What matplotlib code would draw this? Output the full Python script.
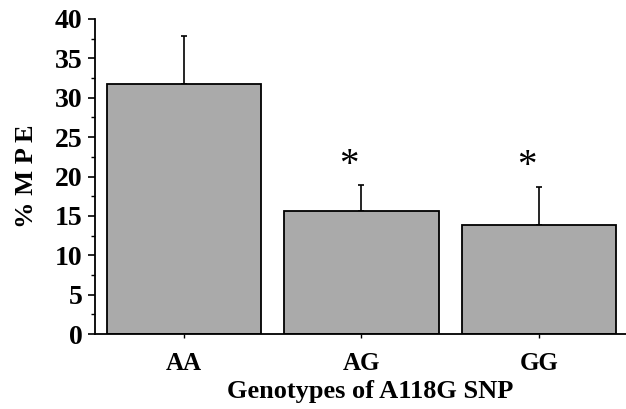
import matplotlib
matplotlib.use('Agg')
import matplotlib.pyplot as plt
from matplotlib.ticker import MultipleLocator

# Data
genotypes = ['AA', 'AG', 'GG']
mpe_mean = [31.7, 15.6, 13.8]
mpe_err = [6.2, 3.3, 4.9]
significant = [False, True, True]

plt.rcParams['font.family'] = ['Liberation Serif', 'DejaVu Serif']
plt.rcParams['font.weight'] = 'bold'

fig = plt.figure(figsize=(6.26, 4.09), dpi=100)
ax = fig.add_axes([95 / 626, 1 - 334 / 409, 1 - 95 / 626, (334 - 19) / 409])

x = range(len(genotypes))
ax.bar(x, mpe_mean, width=0.87, color='#aaaaaa', edgecolor='black',
       linewidth=1.3, zorder=2)
ax.errorbar(x, mpe_mean, yerr=[[0] * len(mpe_err), mpe_err], fmt='none',
            ecolor='black', elinewidth=1.2, capsize=2.5, capthick=1.2, zorder=1)

# significance stars above the error bars
for i, (m, e, s) in enumerate(zip(mpe_mean, mpe_err, significant)):
    if s:
        ax.annotate('*', xy=(i, m + e), xytext=(-9, 1), textcoords='offset points',
                    ha='center', va='bottom', fontsize=28, fontweight='normal')

ax.set_xlim(-0.5, 2.49)
ax.set_ylim(0, 40)
ax.yaxis.set_major_locator(MultipleLocator(5))
ax.yaxis.set_minor_locator(MultipleLocator(2.5))
ax.set_xticks(list(x))
ax.set_xticklabels(genotypes, fontsize=18, fontweight='bold')
ax.tick_params(axis='y', which='major', length=5, width=1.2, labelsize=20, pad=4)
ax.tick_params(axis='y', which='minor', length=3, width=1.0)
ax.tick_params(axis='x', length=3, width=1.0, pad=10)
for lbl in ax.get_yticklabels():
    lbl.set_fontweight('bold')

for side in ['top', 'right']:
    ax.spines[side].set_visible(False)
for side in ['left', 'bottom']:
    ax.spines[side].set_linewidth(1.3)

ax.set_ylabel('% M P E', fontsize=19, fontweight='bold', labelpad=12)
ax.set_xlabel('Genotypes of A118G SNP', fontsize=19, fontweight='bold', labelpad=5)
ax.xaxis.set_label_coords(0.518, -0.145)

fig.savefig('out.png', dpi=100)
